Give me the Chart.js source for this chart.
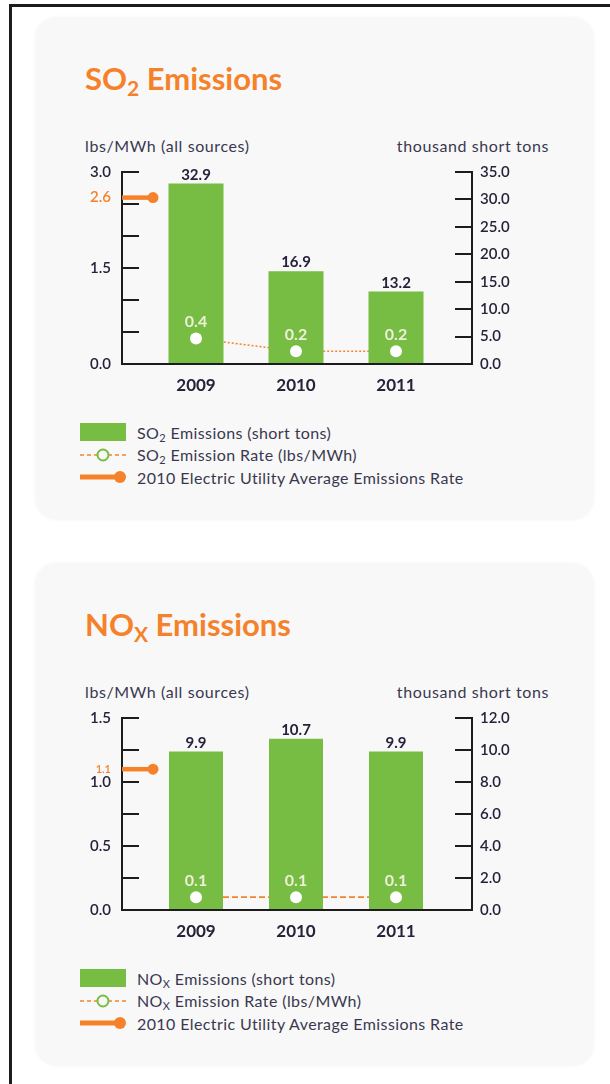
<!DOCTYPE html>
<html>
<head>
<meta charset="utf-8">
<script src="https://cdn.jsdelivr.net/npm/chart.js@4.4.1/dist/chart.umd.min.js"></script>
<style>
  html, body { margin: 0; padding: 0; background: #ffffff; }
  body { width: 610px; height: 1084px; position: relative; overflow: hidden; font-family: Lato, "Open Sans", sans-serif; }
  .frame-top { position: absolute; left: 9px; top: 4px; width: 601px; height: 3px; background: #1c1c1c; }
  .frame-left { position: absolute; left: 9px; top: 4px; width: 3px; height: 1080px; background: #1c1c1c; }
  .block { position: absolute; left: 0; width: 610px; height: 546px; }
  .panel { position: absolute; left: 35px; top: 17px; width: 559px; height: 503px; background: #f8f8f8; border-radius: 22px; box-shadow: 0 0 3px 1px #fafafa; }
  .title { position: absolute; left: 85px; top: 59px; height: 38px; line-height: 38px; font-size: 31px; font-weight: 700; color: #f5822a; white-space: nowrap; }
  .title sub { font-size: 21px; vertical-align: -6px; line-height: 0; }
  .unit { position: absolute; top: 137px; height: 18px; line-height: 18px; font-size: 16px; letter-spacing: 0.6px; color: #3a3850; white-space: nowrap; }
  .unit.left { left: 85px; }
  .unit.right { right: 61px; }
  .chartbox { position: absolute; left: 0; top: 130px; width: 610px; height: 280px; }
  .legend { position: absolute; left: 80px; top: 421px; }
  .legend .row { height: 22.5px; display: flex; align-items: center; font-size: 16px; letter-spacing: 0.4px; color: #3a3850; white-space: nowrap; }
  .legend .mk { width: 46px; height: 22px; margin-right: 11px; display: block; }
  .legend sub { font-size: 11px; vertical-align: -3px; line-height: 0; }
</style>
</head>
<body>
<div class="frame-top"></div>
<div class="frame-left"></div>

<div class="block" style="top:0px">
  <div class="panel"></div>
  <div class="title">SO<sub>2</sub> Emissions</div>
  <div class="unit left">lbs/MWh (all sources)</div>
  <div class="unit right">thousand short tons</div>
  <div class="chartbox"><canvas id="so2Chart" width="610" height="280"></canvas></div>
  <div class="legend">
    <div class="row"><svg class="mk" viewBox="0 0 46 22"><rect x="0" y="2" width="46" height="18" fill="#77bc43"/></svg><span>SO<sub>2</sub> Emissions (short tons)</span></div>
    <div class="row"><svg class="mk" viewBox="0 0 46 22"><line x1="0" y1="11" x2="46" y2="11" stroke="#f5822a" stroke-width="1.5" stroke-dasharray="4 3"/><circle cx="23" cy="11" r="5.5" fill="#f8f8f8" stroke="#77bc43" stroke-width="2"/></svg><span>SO<sub>2</sub> Emission Rate (lbs/MWh)</span></div>
    <div class="row"><svg class="mk" viewBox="0 0 46 22"><line x1="0" y1="11" x2="40" y2="11" stroke="#f5822a" stroke-width="5"/><circle cx="40" cy="11" r="6" fill="#f5822a"/></svg><span>2010 Electric Utility Average Emissions Rate</span></div>
  </div>
</div>

<div class="block" style="top:546px">
  <div class="panel"></div>
  <div class="title">NO<sub>X</sub> Emissions</div>
  <div class="unit left">lbs/MWh (all sources)</div>
  <div class="unit right">thousand short tons</div>
  <div class="chartbox"><canvas id="noxChart" width="610" height="280"></canvas></div>
  <div class="legend">
    <div class="row"><svg class="mk" viewBox="0 0 46 22"><rect x="0" y="2" width="46" height="18" fill="#77bc43"/></svg><span>NO<sub>X</sub> Emissions (short tons)</span></div>
    <div class="row"><svg class="mk" viewBox="0 0 46 22"><line x1="0" y1="11" x2="46" y2="11" stroke="#f5822a" stroke-width="1.5" stroke-dasharray="4 3"/><circle cx="23" cy="11" r="5.5" fill="#f8f8f8" stroke="#77bc43" stroke-width="2"/></svg><span>NO<sub>X</sub> Emission Rate (lbs/MWh)</span></div>
    <div class="row"><svg class="mk" viewBox="0 0 46 22"><line x1="0" y1="11" x2="40" y2="11" stroke="#f5822a" stroke-width="5"/><circle cx="40" cy="11" r="6" fill="#f5822a"/></svg><span>2010 Electric Utility Average Emissions Rate</span></div>
  </div>
</div>

<script>
// Categories
const years = ['2009', '2010', '2011'];

// SO2: emissions (thousand short tons), emission rate (lbs/MWh), utility average rate
const so2Tons = [32.9, 16.9, 13.2];
const so2Rate = [0.4, 0.2, 0.2];
const so2UtilityAvg = 2.6;
const so2RateTickLabels = [0.0, 1.5, 3.0];

// NOx: emissions (thousand short tons), emission rate (lbs/MWh), utility average rate
const noxTons = [9.9, 10.7, 9.9];
const noxRate = [0.1, 0.1, 0.1];
const noxUtilityAvg = 1.1;
const noxRateTickLabels = [0.0, 0.5, 1.0, 1.5];

const GREEN = '#77bc43';
const ORANGE = '#f5822a';
const INK = '#25233a';
const AXIS = '#1c1c1c';
const FONT = 'Lato, "Open Sans", sans-serif';

// Writes each bar's value above it and each rate value above its dot
const valueLabels = {
  id: 'valueLabels',
  afterDatasetsDraw(chart) {
    const ctx = chart.ctx;
    chart.data.datasets.forEach((ds, i) => {
      if (!ds.valueStyle) return;
      const meta = chart.getDatasetMeta(i);
      const s = ds.valueStyle;
      ctx.save();
      ctx.font = s.font;
      ctx.fillStyle = s.color;
      ctx.textAlign = 'center';
      ctx.textBaseline = 'alphabetic';
      meta.data.forEach((el, j) => {
        ctx.fillText(ds.data[j].y.toFixed(1), el.x, el.y - s.lift);
      });
      ctx.restore();
    });
  }
};

// Utility-average stub on the rate axis, with its value in orange beside the axis
const utilityMarker = {
  id: 'utilityMarker',
  afterDatasetsDraw(chart, args, opts) {
    const ctx = chart.ctx;
    const yScale = chart.scales.yRate;
    const y = yScale.getPixelForValue(opts.value);
    const x0 = chart.chartArea.left;
    const x1 = x0 + opts.stub;
    ctx.save();
    ctx.strokeStyle = ORANGE;
    ctx.fillStyle = ORANGE;
    ctx.lineWidth = 4.5;
    ctx.beginPath();
    ctx.moveTo(x0, y);
    ctx.lineTo(x1, y);
    ctx.stroke();
    ctx.beginPath();
    ctx.arc(x1, y, 5.5, 0, Math.PI * 2);
    ctx.fill();
    ctx.font = opts.font;
    ctx.textAlign = 'right';
    ctx.textBaseline = 'middle';
    ctx.fillText(opts.value.toFixed(1), x0 - 11, y);
    ctx.restore();
  }
};

function points(values) {
  return values.map((v, i) => ({ x: i, y: v }));
}

function buildChart(id, d) {
  const yGrid = { display: true, drawOnChartArea: false, drawTicks: true, tickLength: -17, color: AXIS, lineWidth: 2 };
  return new Chart(document.getElementById(id), {
    type: 'bar',
    data: {
      datasets: [
        {
          type: 'line', label: d.rateLabel, data: points(d.rate), yAxisID: 'yRate', xAxisID: 'x',
          borderColor: ORANGE, borderWidth: d.dashWidth, borderDash: d.dash, pointRadius: 0, fill: false, order: 3
        },
        {
          type: 'bar', label: d.tonsLabel, data: points(d.tons), yAxisID: 'yTons', xAxisID: 'x',
          backgroundColor: GREEN, borderWidth: 0, categoryPercentage: 1, barPercentage: d.barPct, order: 2,
          valueStyle: { font: '700 15px ' + FONT, color: INK, lift: 4 }
        },
        {
          type: 'line', label: d.rateLabel, data: points(d.rate), yAxisID: 'yRate', xAxisID: 'x',
          showLine: false, pointRadius: 6, pointBackgroundColor: '#ffffff', pointBorderWidth: 0, order: 1,
          valueStyle: { font: '700 16px ' + FONT, color: '#eef1d8', lift: 11 }
        }
      ]
    },
    options: {
      responsive: false,
      animation: false,
      events: [],
      layout: { padding: { top: 42, left: 0, right: 0, bottom: 0 } },
      plugins: {
        legend: { display: false },
        tooltip: { enabled: false },
        utilityMarker: { value: d.avg, stub: 31, font: d.avgFont }
      },
      scales: {
        x: {
          type: 'linear', position: 'bottom', min: -0.74, max: 2.76, offset: false,
          grid: { display: false, drawTicks: false, offset: false },
          border: { display: true, color: AXIS, width: 2 },
          ticks: {
            stepSize: 1, includeBounds: false, autoSkip: false, maxRotation: 0, padding: 11,
            font: { family: FONT, size: 17, weight: '700' }, color: INK,
            callback: v => years[v]
          },
          afterBuildTicks: s => { s.ticks = s.ticks.filter(t => Number.isInteger(t.value) && t.value >= 0 && t.value < years.length); },
          afterFit: s => { s.height = 46; }
        },
        yRate: {
          type: 'linear', position: 'left', min: 0, max: d.rateMax,
          grid: yGrid,
          border: { display: true, color: AXIS, width: 2 },
          ticks: {
            stepSize: d.rateStep, padding: 28, font: { family: FONT, size: 15, weight: '600' }, color: INK,
            callback: v => d.rateTickLabels.some(t => Math.abs(t - v) < 1e-9) ? v.toFixed(1) : ''
          },
          afterFit: s => { s.width = 122; }
        },
        yTons: {
          type: 'linear', position: 'right', min: 0, max: d.tonsMax,
          grid: yGrid,
          border: { display: true, color: AXIS, width: 2 },
          ticks: {
            stepSize: d.tonsStep, padding: 25, font: { family: FONT, size: 15, weight: '600' }, color: INK,
            callback: v => v.toFixed(1)
          },
          afterFit: s => { s.width = 138; }
        }
      }
    },
    plugins: [valueLabels, utilityMarker]
  });
}

buildChart('so2Chart', {
  tons: so2Tons, rate: so2Rate, avg: so2UtilityAvg, rateTickLabels: so2RateTickLabels,
  rateMax: 3, rateStep: 0.5, tonsMax: 35, tonsStep: 5,
  dash: [2, 2], dashWidth: 1.5, barPct: 0.55, avgFont: '600 15px ' + FONT,
  tonsLabel: 'SO\u2082 Emissions (short tons)', rateLabel: 'SO\u2082 Emission Rate (lbs/MWh)'
});

buildChart('noxChart', {
  tons: noxTons, rate: noxRate, avg: noxUtilityAvg, rateTickLabels: noxRateTickLabels,
  rateMax: 1.5, rateStep: 0.25, tonsMax: 12, tonsStep: 2,
  dash: [6, 3], dashWidth: 1.8, barPct: 0.54, avgFont: '600 11px ' + FONT,
  tonsLabel: 'NOx Emissions (short tons)', rateLabel: 'NOx Emission Rate (lbs/MWh)'
});
</script>
</body>
</html>
